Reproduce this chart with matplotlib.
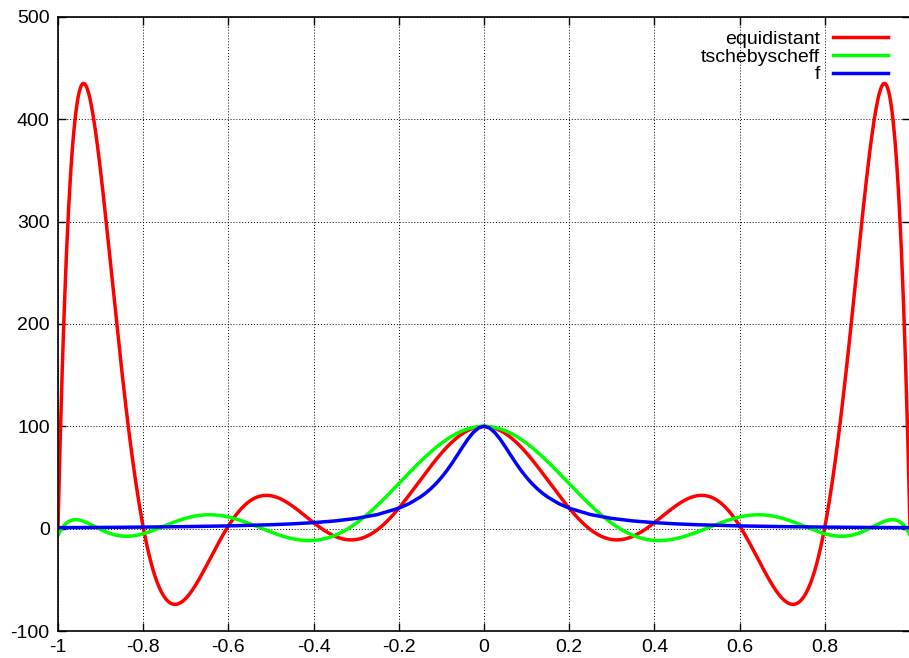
import numpy as np
import matplotlib
matplotlib.use("Agg")
import matplotlib.pyplot as plt

plt.rcParams['font.family'] = ['Liberation Sans', 'DejaVu Sans']
plt.rcParams['axes.unicode_minus'] = False

equi_x = [-1.0, -0.8, -0.6, -0.4, -0.2, 0.0, 0.2, 0.4, 0.6, 0.8, 1.0]
equi_y = [0.99, 1.54, 2.70, 5.88, 20.0, 100.0, 20.0, 5.88, 2.70, 1.54, 0.99]

# tschebyscheff nodes
cheb_x = [-0.9898, -0.9096, -0.7557, -0.5406, -0.2817, 0.0,
          0.2817, 0.5406, 0.7557, 0.9096, 0.9898]
cheb_y = [1.01, 1.19, 1.72, 3.31, 11.19, 100.0,
          11.19, 3.31, 1.72, 1.19, 1.01]

# samples of f
f_x = [-1.0, -0.9, -0.8, -0.7, -0.6, -0.5, -0.45, -0.4, -0.35, -0.3, -0.25,
       -0.2, -0.175, -0.15, -0.1375, -0.125, -0.1125, -0.1, -0.0875, -0.075,
       -0.0625, -0.05, -0.0375, -0.025, -0.0125, 0.0,
       0.0125, 0.025, 0.0375, 0.05, 0.0625, 0.075, 0.0875, 0.1, 0.1125,
       0.125, 0.1375, 0.15, 0.175, 0.2, 0.25, 0.3, 0.35, 0.4, 0.45, 0.5,
       0.6, 0.7, 0.8, 0.9, 1.0]
f_y = [0.99, 1.22, 1.54, 2.0, 2.70, 3.85, 4.71, 5.88, 7.55, 10.0, 13.8,
       20.0, 24.6, 30.8, 34.6, 39.0, 44.1, 50.0, 56.6, 64.0,
       71.9, 80.0, 87.7, 94.1, 98.5, 100.0,
       98.5, 94.1, 87.7, 80.0, 71.9, 64.0, 56.6, 50.0, 44.1,
       39.0, 34.6, 30.8, 24.6, 20.0, 13.8, 10.0, 7.55, 5.88, 4.71, 3.85,
       2.70, 2.0, 1.54, 1.22, 0.99]

xticks = [-1, -0.8, -0.6, -0.4, -0.2, 0, 0.2, 0.4, 0.6, 0.8]
yticks = [-100, 0, 100, 200, 300, 400, 500]

W, H = 909, 658
fig = plt.figure(figsize=(W / 100, H / 100), dpi=100)
ax = fig.add_axes([58 / W, 1 - 631 / H, 852 / W, (631 - 17) / H])

xs = np.linspace(-1, 1, 801)
p_equi = np.poly1d(np.polyfit(equi_x, equi_y, len(equi_x) - 1))
p_cheb = np.poly1d(np.polyfit(cheb_x, cheb_y, len(cheb_x) - 1))

ax.plot(xs, p_equi(xs), color='#ff0000', lw=2.5, label='equidistant')
ax.plot(xs, p_cheb(xs), color='#00ff00', lw=2.5, label='tschebyscheff')
ax.plot(f_x, f_y, color='#0000ff', lw=2.5, label='f')

ax.set_xlim(-1, 1)
ax.set_ylim(-100, 500)
ax.set_xticks(xticks)
ax.set_xticklabels(['-1', '-0.8', '-0.6', '-0.4', '-0.2', '0', '0.2', '0.4', '0.6', '0.8'])
ax.set_yticks(yticks)
ax.tick_params(direction='in', length=6, width=1, labelsize=14, top=True, right=True, pad=6)
ax.grid(True, color='black', linestyle=(0, (1, 2)), linewidth=0.7)
for s in ax.spines.values():
    s.set_linewidth(1.2)

leg = ax.legend(loc='upper right', frameon=False, fontsize=14, markerfirst=False,
                handlelength=2.8, handletextpad=0.7, labelspacing=0.0,
                borderaxespad=0.3, bbox_to_anchor=(0.99, 1.0))
for t in leg.get_texts():
    t.set_ha('right')
leg._legend_box.align = 'right'

fig.savefig('out.png', dpi=100)
